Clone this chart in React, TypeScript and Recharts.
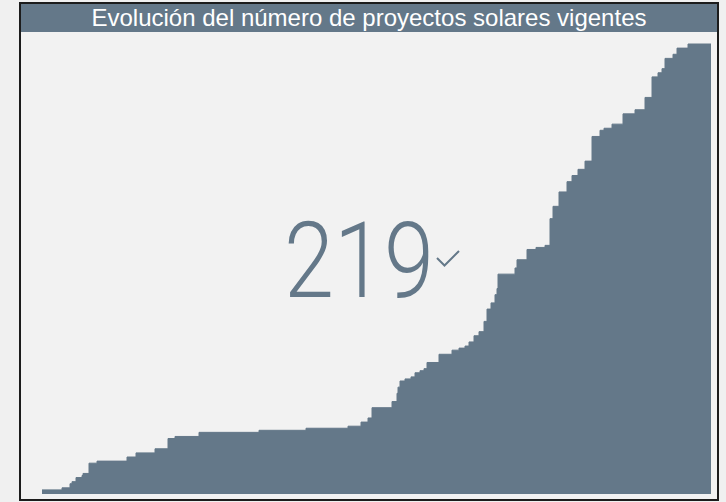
import React from "react";
import { AreaChart, Area, XAxis, YAxis } from "recharts";

// Días transcurridos desde el inicio (eje X) y número acumulado de proyectos vigentes
const dias = [0, 20, 28, 30, 34, 40, 41, 47, 55, 85, 94, 113, 126, 133, 157, 217, 264, 306, 319, 326, 330, 350, 355, 356, 358, 363, 369, 373, 378, 382, 385, 397, 410, 417, 423, 427, 432, 437, 442, 445, 449, 453, 455, 456, 473, 475, 485, 494, 503, 508, 511, 517, 525, 530, 536, 543, 550, 558, 562, 570, 581, 593, 603, 610, 616, 620, 623, 631, 635, 646, 658, 669];
const proyectos = [2, 3, 5, 6, 8, 9, 10, 15, 16, 18, 20, 22, 27, 28, 30, 31, 32, 33, 35, 37, 42, 45, 49, 52, 55, 56, 57, 59, 60, 61, 64, 68, 70, 71, 72, 74, 77, 79, 84, 90, 93, 97, 100, 107, 110, 114, 119, 120, 121, 134, 140, 147, 152, 155, 158, 162, 174, 177, 178, 180, 185, 187, 193, 203, 205, 207, 212, 214, 217, 219, 219, 219];

const titulo = "Evolución del número de proyectos solares vigentes";
const totalVigentes = "219";

const data = dias.map((d, i) => ({ dia: d, proyectos: proyectos[i] }));

const COLOR = "#647889";

export default function App() {
  return (
    <div style={{ position: "fixed", left: 0, top: 0, width: 726, height: 502, background: "#f0f0f0", overflow: "hidden" }}>
      <div
        style={{
          position: "absolute",
          left: 19,
          top: 2,
          width: 700,
          height: 499,
          boxSizing: "border-box",
          border: "2px solid #1c1c1c",
          background: "#f2f2f2",
        }}
      >
        <div
          style={{
            height: 28,
            lineHeight: "27px",
            background: COLOR,
            color: "#ffffff",
            textAlign: "center",
            fontFamily: "'Liberation Sans', Arial, sans-serif",
            fontSize: 24,
            whiteSpace: "nowrap",
          }}
        >
          {titulo}
        </div>
      </div>
      <div style={{ position: "absolute", left: 0, top: 0 }}>
        <AreaChart width={726} height={502} data={data} margin={{ top: 44, left: 42, right: 15, bottom: 8 }}>
          <XAxis dataKey="dia" type="number" domain={[0, 669]} hide />
          <YAxis type="number" domain={[0, 219]} hide />
          <Area
            type="stepAfter"
            dataKey="proyectos"
            stroke={COLOR}
            strokeWidth={1}
            fill={COLOR}
            fillOpacity={1}
            isAnimationActive={false}
          />
        </AreaChart>
      </div>
      <svg width={726} height={502} style={{ position: "absolute", left: 0, top: 0, pointerEvents: "none" }}>
        <text
          x={359}
          y={297}
          textAnchor="middle"
          fill={COLOR}
          fontFamily="Roboto, sans-serif"
          fontWeight={300}
          fontSize={106}
          textLength={150}
          lengthAdjust="spacingAndGlyphs"
        >
          {totalVigentes}
        </text>
        <polyline points="437,258 444.5,265.5 459,251" fill="none" stroke={COLOR} strokeWidth={2} />
      </svg>
    </div>
  );
}
